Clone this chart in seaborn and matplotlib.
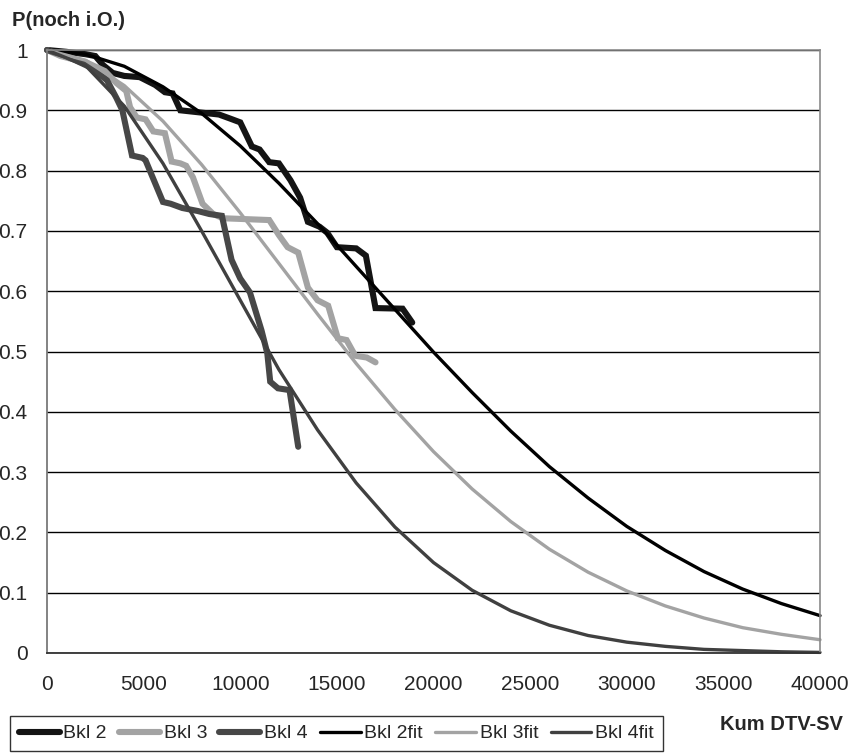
import matplotlib
matplotlib.use("Agg")
import matplotlib.pyplot as plt
import seaborn as sns
import numpy as np
import pandas as pd
from matplotlib.ticker import MultipleLocator, FuncFormatter

# ---- data ----
bkl2_x = [0, 1000, 2000, 2500, 2900, 3400, 4000, 4800, 5600, 6100, 6500, 6900, 8900, 9500,
          10000, 10600, 11000, 11500, 12000, 12600, 13100, 13500, 14100, 14500, 15000, 16000,
          16500, 17000, 18400, 18900]
bkl2_y = [1.0, 0.997, 0.993, 0.99, 0.975, 0.962, 0.957, 0.955, 0.942, 0.93, 0.928, 0.9, 0.893,
          0.886, 0.88, 0.84, 0.835, 0.814, 0.812, 0.784, 0.755, 0.715, 0.707, 0.697, 0.673, 0.671,
          0.659, 0.572, 0.571, 0.548]

bkl3_x = [0, 700, 1300, 2000, 3000, 3600, 4100, 4300, 4650, 5100, 5500, 6100, 6450, 6900, 7200,
          7550, 8050, 8600, 9100, 11500, 12000, 12450, 13000, 13500, 14000, 14550, 15050, 15500,
          15950, 16550, 17000]
bkl3_y = [1.0, 0.99, 0.985, 0.98, 0.965, 0.945, 0.932, 0.905, 0.888, 0.885, 0.865, 0.862, 0.815,
          0.812, 0.808, 0.789, 0.745, 0.728, 0.721, 0.718, 0.693, 0.673, 0.664, 0.606, 0.585, 0.576,
          0.522, 0.519, 0.493, 0.49, 0.482]

bkl4_x = [0, 1000, 2200, 3100, 3600, 3900, 4400, 4950, 5100, 6000, 6400, 7000, 7800, 8400, 9050,
          9550, 10000, 10500, 11100, 11400, 11550, 11950, 12550, 13000]
bkl4_y = [1.0, 0.99, 0.972, 0.95, 0.92, 0.9, 0.825, 0.821, 0.817, 0.748, 0.745, 0.738, 0.733,
          0.728, 0.725, 0.652, 0.621, 0.598, 0.535, 0.497, 0.45, 0.439, 0.436, 0.342]

fit_x = [0, 2000, 4000, 6000, 8000, 10000, 12000, 14000, 16000, 18000, 20000, 22000, 24000,
         26000, 28000, 30000, 32000, 34000, 36000, 38000, 40000]
bkl2fit_y = [1.0, 0.993, 0.973, 0.939, 0.895, 0.841, 0.779, 0.712, 0.641, 0.570, 0.499, 0.432,
             0.368, 0.309, 0.257, 0.210, 0.170, 0.135, 0.106, 0.082, 0.062]
bkl3fit_y = [1.0, 0.983, 0.941, 0.882, 0.810, 0.730, 0.646, 0.562, 0.480, 0.404, 0.334, 0.272,
             0.218, 0.172, 0.134, 0.103, 0.078, 0.058, 0.042, 0.031, 0.022]
bkl4fit_y = [1.0, 0.974, 0.907, 0.812, 0.700, 0.585, 0.470, 0.370, 0.282, 0.209, 0.150, 0.104,
             0.070, 0.046, 0.029, 0.018, 0.011, 0.006, 0.004, 0.002, 0.001]

x_ticks = [0, 5000, 10000, 15000, 20000, 25000, 30000, 35000, 40000]
y_ticks = [0, 0.1, 0.2, 0.3, 0.4, 0.5, 0.6, 0.7, 0.8, 0.9, 1.0]

series = [
    ("Bkl 2", bkl2_x, bkl2_y, "#141414", 4.4),
    ("Bkl 3", bkl3_x, bkl3_y, "#a3a3a3", 4.4),
    ("Bkl 4", bkl4_x, bkl4_y, "#474747", 4.4),
    ("Bkl 2fit", fit_x, bkl2fit_y, "#000000", 2.4),
    ("Bkl 3fit", fit_x, bkl3fit_y, "#a3a3a3", 2.4),
    ("Bkl 4fit", fit_x, bkl4fit_y, "#404040", 2.4),
]

sns.set_style("white")
plt.rcParams['font.family'] = ['Liberation Sans', 'DejaVu Sans']
FS = 15

W, H = 850, 753
fig = plt.figure(figsize=(W / 100, H / 100), dpi=100)
ax = fig.add_axes([47 / W, 100 / H, 773 / W, 603 / H])

for name, xs, ys, col, lw in series:
    df = pd.DataFrame({"x": xs, "y": ys})
    sns.lineplot(data=df, x="x", y="y", ax=ax, color=col, linewidth=lw,
                 sort=False, estimator=None, label=name)

for ln in ax.lines:
    ln.set_clip_on(False)
    ln.set_solid_joinstyle("miter")

ax.set_xlim(0, 40000)
ax.set_ylim(0, 1)
ax.set_xlabel("")
ax.set_ylabel("")
ax.set_xticks(x_ticks)
ax.xaxis.set_minor_locator(MultipleLocator(1000))
ax.set_yticks(y_ticks)
ax.yaxis.set_major_formatter(FuncFormatter(lambda v, p: f"{v:g}"))
ax.xaxis.set_major_formatter(FuncFormatter(lambda v, p: f"{int(v)}"))

ax.set_axisbelow(True)
ax.yaxis.grid(True, color="black", linewidth=1.0)
ax.xaxis.grid(False)

for s in ["top", "right"]:
    ax.spines[s].set_color("#8a8a8a")
    ax.spines[s].set_linewidth(1.2)
ax.spines["left"].set_color("#7a7a7a")
ax.spines["left"].set_linewidth(1.3)
ax.spines["bottom"].set_color("#333333")
ax.spines["bottom"].set_linewidth(1.3)

ax.tick_params(axis="x", which="both", direction="inout", length=10, width=1,
               color="#333333", labelsize=FS, pad=11)
ax.tick_params(axis="y", which="major", direction="out", length=6, width=1,
               color="#333333", labelsize=FS, pad=8)

leg = ax.legend(loc="upper left", bbox_to_anchor=(10 / W, 1 - 716 / H),
                bbox_transform=fig.transFigure, ncol=6, fontsize=14, frameon=True,
                fancybox=False, edgecolor="black", handlelength=2.1, handletextpad=0.2,
                columnspacing=0.62, borderpad=0.45, borderaxespad=0)
leg.get_frame().set_linewidth(1.0)
leg.set_clip_on(False)

fig.text(12 / W, 1 - 21 / H, "P(noch i.O.)", fontsize=14.5, fontweight="bold",
         ha="left", va="center")
fig.text(843 / W, 1 - 724 / H, "Kum DTV-SV", fontsize=14.5, fontweight="bold",
         ha="right", va="center")

fig.savefig("out.png", dpi=100)
